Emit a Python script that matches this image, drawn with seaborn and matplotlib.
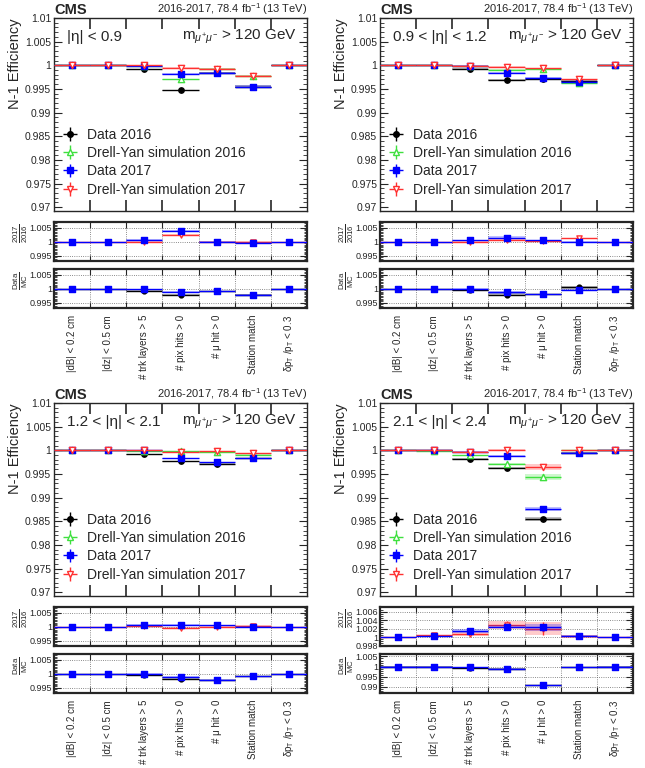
import numpy as np
import pandas as pd
import matplotlib
matplotlib.use("Agg")
import matplotlib.pyplot as plt
import seaborn as sns
from matplotlib.lines import Line2D
from matplotlib.ticker import MultipleLocator, FuncFormatter

sns.set_style("ticks")
plt.rcParams['font.family'] = ['Liberation Sans', 'DejaVu Sans']
plt.rcParams['mathtext.fontset'] = 'custom'
plt.rcParams['mathtext.rm'] = 'Liberation Sans'
plt.rcParams['mathtext.it'] = 'Liberation Sans:italic'
plt.rcParams['mathtext.bf'] = 'Liberation Sans:bold'
plt.rcParams['mathtext.sf'] = 'Liberation Sans'

# --- data ---------------------------------------------------------------
cuts = ["|dB| < 0.2 cm", "|dz| < 0.5 cm", "# trk layers > 5", "# pix hits > 0",
        "# μ hit > 0", "Station match", r"δp$_{\mathrm{T}}$ /p$_{\mathrm{T}}$ < 0.3"]
eta_labels = ["|η| < 0.9", "0.9 < |η| < 1.2", "1.2 < |η| < 2.1", "2.1 < |η| < 2.4"]

data16 = [
    [1.0, 1.0, 0.9992, 0.9947, 0.9984, 0.9955, 1.0],
    [1.0, 1.0, 0.9992, 0.9969, 0.9970, 0.9967, 1.0],
    [1.0, 1.0, 0.9992, 0.9977, 0.9972, 0.9983, 1.0],
    [1.0, 1.0, 0.9981, 0.9963, 0.9854, 0.9995, 1.0],
]
mc16 = [
    [1.0, 1.0, 0.9999, 0.9970, 0.9993, 0.9978, 1.0],
    [1.0, 1.0, 0.9998, 0.9991, 0.9992, 0.9962, 1.0],
    [1.0, 1.0, 0.9999, 0.9998, 0.9996, 0.9991, 1.0],
    [1.0, 0.9998, 0.9990, 0.9972, 0.9944, 1.0, 1.0],
]
data17 = [
    [1.0, 1.0, 0.9999, 0.9982, 0.9984, 0.9955, 1.0],
    [1.0, 1.0, 0.9998, 0.9983, 0.9974, 0.9965, 1.0],
    [1.0, 1.0, 1.0, 0.9983, 0.9975, 0.9983, 1.0],
    [1.0, 1.0, 0.9996, 0.9988, 0.9876, 0.9994, 1.0],
]
mc17 = [
    [1.0, 1.0, 1.0, 0.9995, 0.9993, 0.9978, 1.0],
    [1.0, 1.0, 0.9999, 0.9997, 0.9994, 0.9971, 1.0],
    [1.0, 1.0, 1.0, 0.9996, 0.9998, 0.9994, 1.0],
    [1.0, 1.0, 0.9997, 1.0, 0.9965, 1.0, 1.0],
]
err_data = [
    [0.00003, 0.00003, 0.0001, 0.00015, 0.0001, 0.0003, 0.00003],
    [0.00003, 0.00003, 0.0002, 0.0002, 0.0002, 0.0002, 0.00003],
    [0.00003, 0.00003, 0.0001, 0.0001, 0.0001, 0.0001, 0.00003],
    [0.00003, 0.00005, 0.0002, 0.0002, 0.0004, 0.0002, 0.00003],
]
err_mc = [
    [0.00003, 0.00003, 0.0001, 0.0001, 0.0001, 0.0001, 0.00003],
    [0.00003, 0.00003, 0.0001, 0.0001, 0.0001, 0.0001, 0.00003],
    [0.00003, 0.00003, 0.0001, 0.0001, 0.0001, 0.0001, 0.00003],
    [0.00003, 0.00005, 0.0001, 0.0002, 0.0006, 0.0001, 0.00003],
]

# ratio 2017/2016 (blue: data, red: Drell-Yan)
r1_data = [
    [1.0, 1.0, 1.0007, 1.0037, 1.0, 0.9996, 1.0],
    [1.0, 1.0, 1.0005, 1.0015, 1.0005, 0.9998, 1.0],
    [1.0, 0.9999, 1.0007, 1.0007, 1.0005, 1.0, 1.0],
    [1.0, 1.00015, 1.0014, 1.0025, 1.0023, 1.0002, 1.0],
]
r1_mc = [
    [1.0, 1.0, 0.9999, 1.0024, 1.0, 0.9999, 1.0],
    [1.0, 1.0, 1.0001, 1.0006, 1.0002, 1.0012, 1.0],
    [1.0, 1.0, 1.0002, 0.9996, 1.0001, 1.0003, 1.0],
    [1.0, 1.0004, 1.0007, 1.0029, 1.0020, 1.00015, 1.0],
]
# ratio Data/MC (black: 2016, blue: 2017)
r2_16 = [
    [1.0, 1.0, 0.9993, 0.9977, 0.9992, 0.9978, 1.0],
    [1.0, 1.0, 0.9997, 0.9979, 0.9981, 1.0005, 1.0],
    [1.0, 1.0, 0.9994, 0.9981, 0.9977, 0.9992, 1.0],
    [1.0, 1.0, 0.9993, 0.9989, 0.9908, 0.9996, 1.0],
]
r2_17 = [
    [1.0, 1.0, 0.9998, 0.9989, 0.9992, 0.9978, 1.0],
    [1.0, 1.0, 0.9999, 0.9987, 0.9981, 0.99955, 1.0],
    [1.0, 1.0, 0.9999, 0.9990, 0.9979, 0.9992, 1.0],
    [1.0, 1.0, 0.99964, 0.9989, 0.9907, 0.9996, 1.0],
]
err_r1_data = [
    [0.00005, 0.00005, 0.0003, 0.0003, 0.0001, 0.0002, 0.00005],
    [0.00005, 0.00005, 0.0002, 0.0005, 0.0002, 0.0003, 0.00005],
    [0.00005, 0.00005, 0.0002, 0.0002, 0.0002, 0.0001, 0.00005],
    [0.00005, 0.0001, 0.0004, 0.0004, 0.0009, 0.0002, 0.00005],
]
err_r1_mc = [
    [0.00005, 0.00005, 0.0002, 0.0003, 0.0001, 0.0002, 0.00005],
    [0.00005, 0.00005, 0.0002, 0.0003, 0.0002, 0.0003, 0.00005],
    [0.00005, 0.00005, 0.0002, 0.0003, 0.0002, 0.0002, 0.00005],
    [0.00005, 0.0002, 0.0004, 0.0010, 0.0015, 0.0003, 0.00005],
]
err_r2 = [
    [0.00005, 0.00005, 0.0002, 0.0003, 0.0001, 0.0002, 0.00005],
    [0.00005, 0.00005, 0.0002, 0.0005, 0.0002, 0.0005, 0.00005],
    [0.00005, 0.00005, 0.0002, 0.0003, 0.0002, 0.0001, 0.00005],
    [0.00005, 0.00005, 0.0003, 0.0003, 0.0003, 0.0002, 0.00005],
]

BLACK, GREEN, BLUE, RED = "black", "#3fe03f", "#0000ff", "#ff3030"
W, H = 645, 768
centers = np.arange(len(cuts)) + 0.5
fmt_g = FuncFormatter(lambda v, p: f"{v:g}")


def rect(x0, y_top, w, h):
    return [x0 / W, 1 - (y_top + h) / H, w / W, h / H]


def draw_series(ax, y, err, color, marker, filled, ms, z):
    y = np.asarray(y)
    err = np.asarray(err)
    ax.bar(centers, 2 * err, bottom=y - err, width=1.0, color=color,
           alpha=0.25, linewidth=0, zorder=z)
    eb = ax.errorbar(centers, y, xerr=0.5, yerr=err, fmt="none", ecolor=color,
                     elinewidth=1.0, capsize=0, zorder=z + 0.1)
    df = pd.DataFrame({"x": centers, "y": y})
    face = color if filled else "white"
    sns.scatterplot(data=df, x="x", y="y", ax=ax, marker=marker, s=ms,
                    color=color, facecolor=face, edgecolor=color,
                    linewidth=1.0, zorder=z + 0.2, legend=False)
    return eb


fig = plt.figure(figsize=(W / 100, H / 100), dpi=100)

col_x = [54, 380]
row_y = [18, 403]
for p in range(4):
    cx = col_x[p % 2]
    ry = row_y[p // 2]
    ax = fig.add_axes(rect(cx, ry, 253, 193))
    ax1 = fig.add_axes(rect(cx, ry + 204, 253, 39))
    ax2 = fig.add_axes(rect(cx, ry + 251, 253, 39))

    # main panel
    h16 = draw_series(ax, data16[p], err_data[p], BLACK, "o", True, 15, 3)
    hm16 = draw_series(ax, mc16[p], err_mc[p], GREEN, "^", False, 20, 4)
    h17 = draw_series(ax, data17[p], err_data[p], BLUE, "s", True, 18, 5)
    hm17 = draw_series(ax, mc17[p], err_mc[p], RED, "v", False, 20, 6)

    ax.set_xlim(0, 7)
    ax.set_ylim(0.9692, 1.01)
    ax.set_xticks(range(1, 7))
    ax.set_xticklabels([])
    ax.set_yticks(np.arange(0.97, 1.0101, 0.005))
    ax.yaxis.set_major_formatter(fmt_g)
    ax.yaxis.set_minor_locator(MultipleLocator(0.001))
    ax.tick_params(axis="x", which="major", direction="in", length=8, width=1.2,
                   top=True, bottom=True)
    ax.tick_params(axis="y", which="major", direction="in", length=6,
                   left=True, right=True, labelsize=7.5, pad=2)
    ax.tick_params(axis="y", which="minor", direction="in", length=3,
                   left=True, right=True)
    ax.set_xlabel("")
    ax.set_ylabel("N-1 Efficiency", fontsize=10.5, labelpad=2, loc="top")
    for s in ax.spines.values():
        s.set_linewidth(1.0)

    ax.text(0.0, 1.004, "CMS", transform=ax.transAxes, fontsize=10.5,
            fontweight="bold", ha="left", va="bottom")
    ax.text(1.0, 1.004, r"2016-2017, 78.4 fb$^{-1}$ (13 TeV)",
            transform=ax.transAxes, fontsize=8, ha="right", va="bottom")
    ax.text(0.05, 0.9, eta_labels[p], transform=ax.transAxes, fontsize=11,
            ha="left", va="center")
    ax.text(0.96, 0.9, r"m$_{\mu^{+}\mu^{-}}$ > 120 GeV",
            transform=ax.transAxes, fontsize=11, ha="right", va="center")

    handles = []
    for eb, c, m, f in [(h16, BLACK, "o", True), (hm16, GREEN, "^", False),
                        (h17, BLUE, "s", True), (hm17, RED, "v", False)]:
        mk = Line2D([], [], marker=m, ls="none", color=c, markersize=4,
                    markerfacecolor=c if f else "white", markeredgecolor=c)
        handles.append((eb, mk))
    ax.legend(handles, ["Data 2016", "Drell-Yan simulation 2016", "Data 2017",
                        "Drell-Yan simulation 2017"],
              loc="lower left", bbox_to_anchor=(0.02, 0.075), frameon=False,
              fontsize=10, handlelength=1.6, handletextpad=0.4,
              labelspacing=0.3, borderaxespad=0, borderpad=0)

    # ratio 2017 / 2016
    draw_series(ax1, r1_mc[p], err_r1_mc[p], RED, "v", False, 14, 3)
    draw_series(ax1, r1_data[p], err_r1_data[p], BLUE, "s", True, 16, 4)
    # ratio Data / MC
    draw_series(ax2, r2_16[p], err_r2[p], BLACK, "o", True, 12, 3)
    draw_series(ax2, r2_17[p], err_r2[p], BLUE, "s", True, 16, 4)

    if p == 3:
        ax1.set_ylim(0.9979, 1.0071)
        ax1.set_yticks([0.998, 1.0, 1.002, 1.004, 1.006])
        ax2.set_ylim(0.987, 1.0062)
        ax2.set_yticks([0.99, 0.995, 1.0, 1.005])
    else:
        ax1.set_ylim(0.9932, 1.0070)
        ax1.set_yticks([0.995, 1.0, 1.005])
        ax2.set_ylim(0.9932, 1.0070)
        ax2.set_yticks([0.995, 1.0, 1.005])

    for a, lab in [(ax1, r"$\frac{2017}{2016}$"), (ax2, r"$\frac{\mathrm{Data}}{\mathrm{MC}}$")]:
        a.set_xlim(0, 7)
        a.set_xticks(range(1, 7))
        a.set_xticklabels([])
        a.set_xlabel("")
        a.set_ylabel("")
        a.yaxis.set_major_formatter(fmt_g)
        a.yaxis.set_minor_locator(MultipleLocator(0.0005 if a is ax1 or p != 3 else 0.001))
        a.grid(True, which="major", ls=":", color="#666666", lw=0.6)
        a.tick_params(axis="x", which="major", direction="in", length=4,
                      top=True, bottom=True)
        a.tick_params(axis="y", which="major", direction="in", length=5,
                      left=True, right=True, labelsize=6.5, pad=1.5)
        a.tick_params(axis="y", which="minor", direction="in", length=2.5,
                      left=True, right=True)
        for s in a.spines.values():
            s.set_linewidth(1.6)
        a.text(-0.13, 0.7, lab, transform=a.transAxes, rotation=90,
               fontsize=8, ha="center", va="center")

    ax2.set_xticks(centers, minor=True)
    ax2.set_xticklabels(cuts, minor=True, rotation=90, fontsize=7)
    ax2.tick_params(axis="x", which="minor", length=0, pad=5)

fig.savefig("out.png", dpi=100)
